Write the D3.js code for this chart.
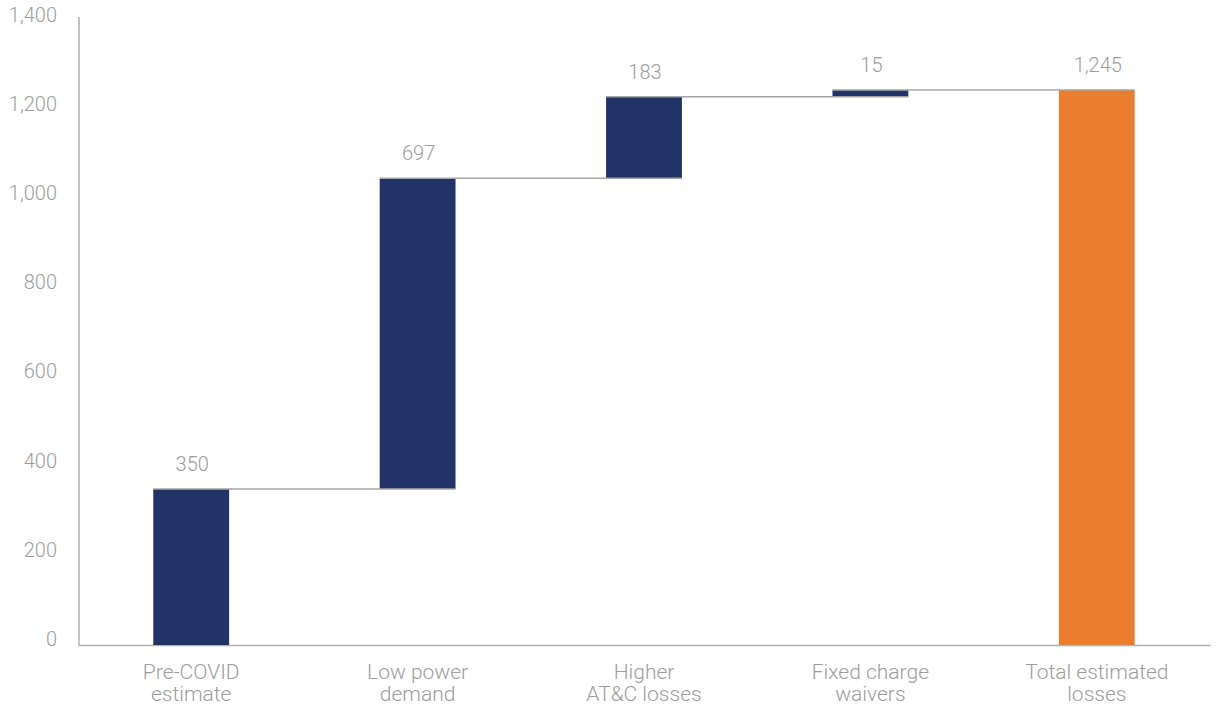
<!DOCTYPE html>
<html>
<head>
<meta charset="utf-8">
<script src="https://cdn.jsdelivr.net/npm/d3@7"></script>
<style>
  html, body { margin: 0; padding: 0; background: #ffffff; }
  svg text { font-family: Roboto, "Noto Sans", sans-serif; font-weight: 300; fill: #9d9d9d; }
</style>
</head>
<body>
<svg id="chart" width="1220" height="706"></svg>
<script>
// Waterfall of distribution utility losses (Rs billion)
const categories = [
  ["Pre-COVID", "estimate"],
  ["Low power", "demand"],
  ["Higher", "AT&C losses"],
  ["Fixed charge", "waivers"],
  ["Total estimated", "losses"]
];
const values = [350, 697, 183, 15, 1245];
const isTotal = [false, false, false, false, true];
const yTicks = [0, 200, 400, 600, 800, 1000, 1200, 1400];

const svg = d3.select("#chart");
const plotLeft = 79, plotRight = 1210, plotTop = 21, plotBottom = 645;

const x = d3.scaleBand()
  .domain(d3.range(values.length))
  .range([plotLeft - 1, plotRight])
  .paddingInner(0.665)
  .paddingOuter(0.3325);

const y = d3.scaleLinear().domain([0, 1400]).range([plotBottom, plotTop]);

// running start/end for each step of the waterfall
let run = 0;
const steps = values.map((v, i) => {
  if (isTotal[i]) { return { i, v, start: 0, end: v }; }
  const s = { i, v, start: run, end: run + v };
  run += v;
  return s;
});

// Y axis labels
const yAxis = d3.axisLeft(y).tickValues(yTicks).tickSize(0).tickPadding(22)
  .tickFormat(d3.format(","));
const gy = svg.append("g").attr("transform", `translate(${plotLeft},0)`).call(yAxis);
gy.select(".domain").remove();
gy.append("line")
  .attr("x1", 0).attr("x2", 0)
  .attr("y1", 17).attr("y2", plotBottom)
  .attr("stroke", "#b0b0b0").attr("stroke-width", 1.5);
gy.selectAll("text").style("font-size", "20px").attr("fill", "#9d9d9d").attr("dy", "0.02em");

// X axis baseline
const xAxis = d3.axisBottom(x).tickSize(0).tickFormat("");
const gx = svg.append("g").attr("transform", `translate(0,${plotBottom})`).call(xAxis);
gx.select(".domain").attr("stroke", "#b0b0b0").attr("stroke-width", 1.5);

// Category labels (two lines)
const catG = svg.append("g");
categories.forEach((lines, i) => {
  const t = catG.append("text")
    .attr("x", x(i) + x.bandwidth() / 2)
    .attr("y", 679)
    .attr("text-anchor", "middle")
    .style("font-size", "21px");
  lines.forEach((ln, k) => {
    t.append("tspan")
      .attr("x", x(i) + x.bandwidth() / 2)
      .attr("dy", k === 0 ? 0 : 22)
      .text(ln);
  });
});

// Bars
svg.append("g").selectAll("rect").data(steps).join("rect")
  .attr("x", d => x(d.i))
  .attr("width", x.bandwidth())
  .attr("y", d => y(d.end))
  .attr("height", d => y(d.start) - y(d.end))
  .attr("fill", d => isTotal[d.i] ? "#eb7d2f" : "#223467");

// Connector lines from each bar's top to the next bar
svg.append("g").selectAll("line").data(steps.slice(0, -1)).join("line")
  .attr("x1", d => x(d.i))
  .attr("x2", d => x(d.i + 1) + x.bandwidth())
  .attr("y1", d => y(d.end))
  .attr("y2", d => y(d.end))
  .attr("stroke", "#a6a6a6")
  .attr("stroke-width", 1.5);

// Value labels
svg.append("g").selectAll("text").data(steps).join("text")
  .attr("x", d => x(d.i) + x.bandwidth() / 2 + 1)
  .attr("y", d => y(d.end) - 18)
  .attr("text-anchor", "middle")
  .style("font-size", "20px")
  .text(d => d3.format(",")(d.v));
</script>
</body>
</html>
